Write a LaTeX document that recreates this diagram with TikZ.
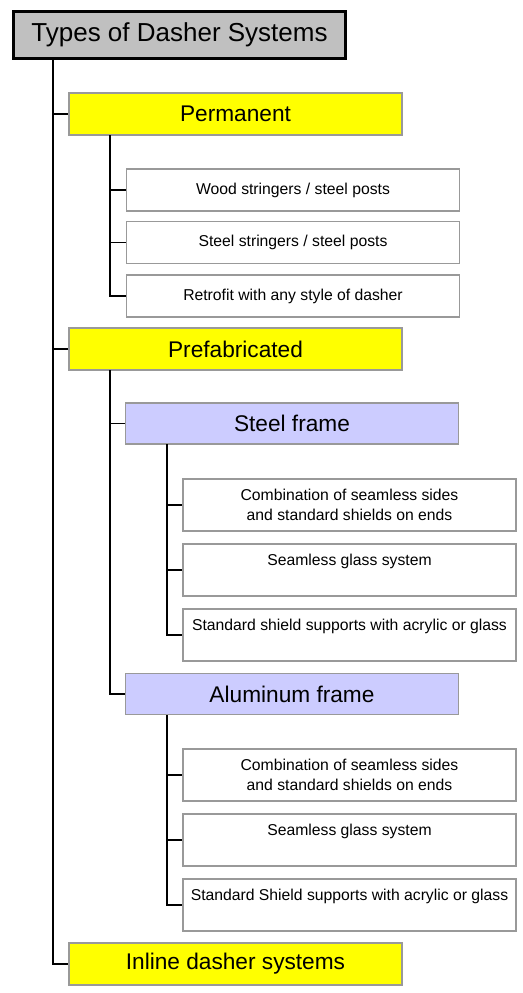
\documentclass[tikz,border=0pt]{standalone}
\usepackage{fontspec}
\setmainfont{Liberation Sans}
\definecolor{boxgray}{HTML}{999999}
\definecolor{titlefill}{HTML}{C0C0C0}
\definecolor{lvlyellow}{HTML}{FFFF00}
\definecolor{lvlblue}{HTML}{CCCCFF}
\tikzset{
  titlebox/.style={draw=black, line width=3*0.75pt, fill=titlefill, rectangle,
    minimum width={332*0.75pt}, minimum height={47*0.75pt}, inner sep=0pt,
    font=\fontsize{19.5}{23}\selectfont},
  lvlbox/.style={draw=boxgray, line width=1.5*0.75pt, rectangle,
    minimum width={333*0.75pt}, minimum height={42*0.75pt}, inner sep=0pt,
    font=\fontsize{17}{20}\selectfont},
  yelbox/.style={lvlbox, fill=lvlyellow},
  bluebox/.style={lvlbox, fill=lvlblue, minimum height={41*0.75pt}},
  leafbox/.style={draw=boxgray, line width=1.5*0.75pt, fill=white, rectangle,
    minimum width={333*0.75pt}, minimum height={42*0.75pt}, inner sep=0pt,
    align=center, font=\fontsize{11.8}{15}\selectfont},
  tallleaf/.style={leafbox, minimum height={52*0.75pt}},
  conn/.style={draw=black, line width=1.5*0.75pt}
}
\begin{document}
\begin{tikzpicture}[x=0.75pt, y=-0.75pt]
\useasboundingbox (0,0) rectangle (523,993);
\fill[white] (0,0) rectangle (523,993);

\node[titlebox] (title) at (179.5,35) {Types of Dasher Systems};

\node[yelbox] (perm) at (235.5,114) {Permanent};
\node[leafbox] (p1) at (293,190) {Wood stringers / steel posts};
\node[leafbox] (p2) at (293,242.5) {Steel stringers / steel posts};
\node[leafbox] (p3) at (293,296) {Retrofit with any style of dasher};

\node[yelbox] (prefab) at (235.5,349) {Prefabricated};

\node[bluebox] (steel) at (292,423.5) {Steel frame};
\node[tallleaf] (s1) at (349.5,505) {Combination of seamless sides\\and standard shields on ends};
\node[tallleaf] (s2) at (349.5,570) {Seamless glass system\\\mbox{}};
\node[tallleaf] (s3) at (349.5,635) {Standard shield supports with acrylic or glass\\\mbox{}};

\node[bluebox] (alu) at (292,694) {Aluminum frame};
\node[tallleaf] (a1) at (349.5,775) {Combination of seamless sides\\and standard shields on ends};
\node[tallleaf] (a2) at (349.5,840) {Seamless glass system\\\mbox{}};
\node[tallleaf] (a3) at (349.5,905) {Standard Shield supports with acrylic or glass\\\mbox{}};

\node[yelbox] (inline) at (235.5,964) {Inline dasher systems};

% trunks
\coordinate (t0) at (53,60);
\coordinate (pt) at (110,135);
\coordinate (qt) at (110,370);
\coordinate (st) at (167,444);
\coordinate (at) at (167,715);

\draw[conn] (t0) |- (inline.west);
\draw[conn] (t0 |- perm.west) -- (perm.west);
\draw[conn] (t0 |- prefab.west) -- (prefab.west);

\draw[conn] (pt) |- (p3.west);
\draw[conn] (pt |- p1.west) -- (p1.west);
\draw[conn] (pt |- p2.west) -- (p2.west);

\draw[conn] (qt) |- (alu.west);
\draw[conn] (qt |- steel.west) -- (steel.west);

\draw[conn] (st) |- (s3.west);
\draw[conn] (st |- s1.west) -- (s1.west);
\draw[conn] (st |- s2.west) -- (s2.west);

\draw[conn] (at) |- (a3.west);
\draw[conn] (at |- a1.west) -- (a1.west);
\draw[conn] (at |- a2.west) -- (a2.west);
\end{tikzpicture}
\end{document}
